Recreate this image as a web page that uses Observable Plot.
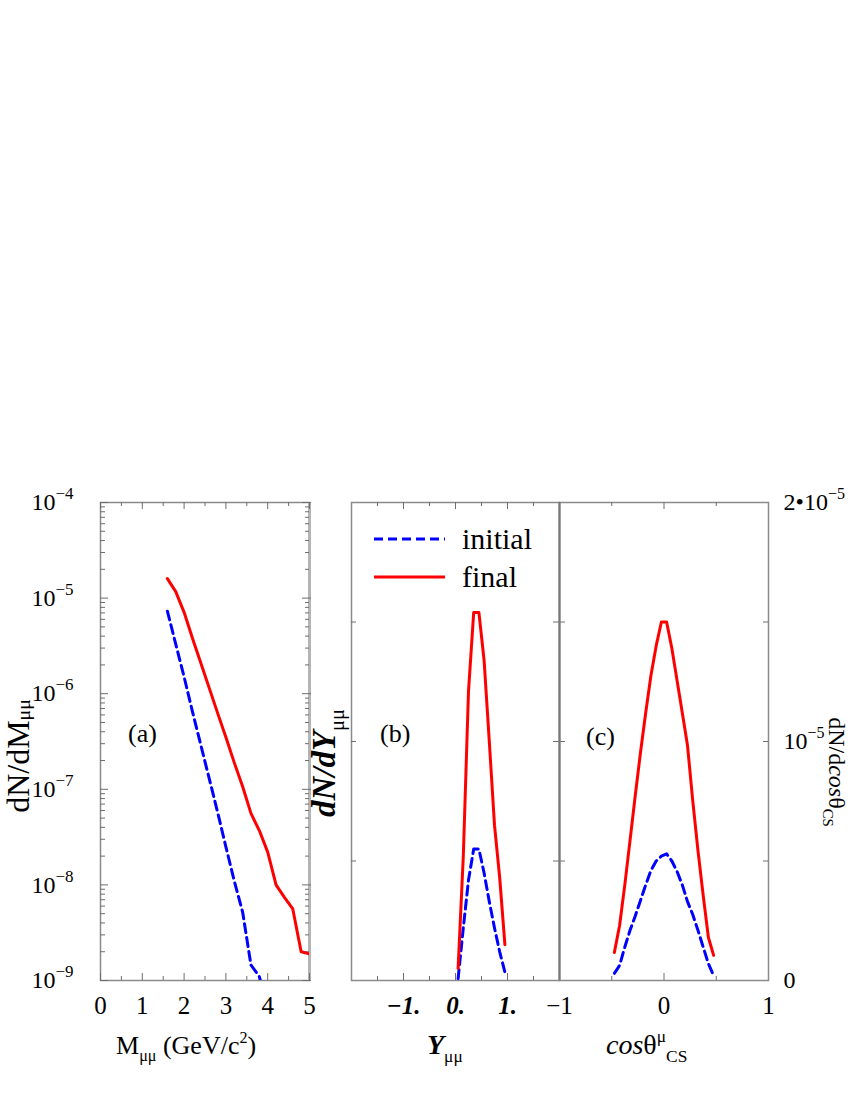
<!DOCTYPE html>
<html><head><meta charset="utf-8">
<script src="https://cdn.jsdelivr.net/npm/d3@7"></script>
<script src="https://cdn.jsdelivr.net/npm/@observablehq/plot@0.6"></script>
<style>
body{margin:0;background:#fff;}
#wrap{position:relative;width:850px;height:1100px;font-family:"Liberation Serif","Times New Roman",serif;color:#000;}
#wrap text{font-family:"Liberation Serif","Times New Roman",serif;}
</style></head><body><div id="wrap"></div>
<script>
// ---------- data ----------
const massFinalX = [1.6,1.8,2.0,2.2,2.4,2.6,2.8,3.0,3.2,3.4,3.6,3.8,4.0,4.2,4.4,4.6,4.8,5.0];
const massFinal  = [1.6e-5,1.17e-5,7.1e-6,3.8e-6,2.1e-6,1.15e-6,6.3e-7,3.5e-7,1.9e-7,1.07e-7,5.6e-8,3.7e-8,2.2e-8,1.0e-8,7.4e-9,5.6e-9,2.0e-9,1.9e-9];
const massInitialX = [1.6,1.8,2.0,2.2,2.4,2.6,2.8,3.0,3.2,3.4,3.6,3.8,4.0];
const massInitial  = [7.3e-6,3.3e-6,1.5e-6,6.5e-7,2.9e-7,1.3e-7,5.8e-8,2.5e-8,1.1e-8,5.2e-9,1.45e-9,1.1e-9,5e-10];

const rapX       = [0.05,0.15,0.25,0.35,0.45,0.55,0.65,0.75,0.85,0.95];
const rapInitial = [0.008e-5,0.22e-5,0.42e-5,0.55e-5,0.55e-5,0.45e-5,0.33e-5,0.22e-5,0.12e-5,0.035e-5];
const rapFinal   = [0.05e-5,0.52e-5,1.21e-5,1.54e-5,1.54e-5,1.34e-5,1.0e-5,0.65e-5,0.43e-5,0.15e-5];

const cosX = [-0.475,-0.425,-0.375,-0.325,-0.275,-0.225,-0.175,-0.125,-0.075,-0.025,0.025,0.075,0.125,0.175,0.225,0.275,0.325,0.375,0.425,0.475];
const cosInitial = [0.03e-5,0.063e-5,0.14e-5,0.21e-5,0.27e-5,0.335e-5,0.40e-5,0.46e-5,0.50e-5,0.52e-5,0.53e-5,0.50e-5,0.456e-5,0.40e-5,0.33e-5,0.276e-5,0.21e-5,0.14e-5,0.07e-5,0.02e-5];
const cosFinal   = [0.117e-5,0.23e-5,0.40e-5,0.586e-5,0.774e-5,0.954e-5,1.12e-5,1.276e-5,1.40e-5,1.50e-5,1.50e-5,1.39e-5,1.255e-5,1.12e-5,0.983e-5,0.753e-5,0.544e-5,0.356e-5,0.18e-5,0.105e-5];

const massDomain = [0,5];
const logDomain = [1e-9,1e-4];
const decades = [1e-9,1e-8,1e-7,1e-6,1e-5,1e-4];
const massMajor = [0,1,2,3,4,5];
const massMinor = [0.5,1.5,2.5,3.5,4.5];
const rapDomain = [-2,2];
const rapLabels = [-1,0,1];
const rapMinor = [-1.5,-0.5,0.5,1.5];
const cosDomain = [-1,1];
const cosLabels = [-1,0,1];
const cosMajor = [0];
const cosMinor = [-0.5,0.5];
const linDomain = [0,2e-5];
const linTicks = [0.5e-5,1e-5,1.5e-5];
const rightLabels = [0,1e-5,2e-5];
const seriesNames = ["initial","final"];

// ---------- styles ----------
const FONT = '"Liberation Serif","Times New Roman",serif';
const RED = "#ff0000", BLUE = "#0000ff";
const DASH = "9,5";
const FRAME = "#8a8a8a", TICK = "#6e6e6e";
const FH = 478;
const minorLog = decades.slice(0,-1).flatMap(d => [2,3,4,5,6,7,8,9].map(k => k*d));
const pts = (xs, ys) => xs.map((x,i) => ({x, y: ys[i]}));
const minus = s => String(s).replace("-", "\u2212");
const baseStyle = {background:"transparent", overflow:"visible", fontFamily:FONT, fontSize:"25px", color:"#000"};

function hT(values, fw, len, side, stroke=TICK, out=0) {
  return side === "left"
    ? Plot.ruleY(values, {y: d=>d, insetLeft: -out, insetRight: fw-len, stroke, strokeWidth:1})
    : Plot.ruleY(values, {y: d=>d, insetLeft: fw-len, insetRight: -out, stroke, strokeWidth:1});
}
function vT(values, len, side, stroke=TICK) {
  return side === "bottom"
    ? Plot.ruleX(values, {x: d=>d, insetTop: FH-len, stroke, strokeWidth:1})
    : Plot.ruleX(values, {x: d=>d, insetBottom: FH-len, stroke, strokeWidth:1});
}
function supify(svg, supSize, shift) {
  d3.select(svg).selectAll("text").each(function(){
    const t = this.textContent;
    if (!t.includes("^")) return;
    const [a,b] = t.split("^");
    const s = d3.select(this);
    s.text(null);
    s.append("tspan").text(a);
    s.append("tspan").attr("dy", -shift).attr("font-size", supSize).text(b);
  });
}
function place(node, left, top) {
  node.style.position = "absolute";
  node.style.left = left + "px";
  node.style.top = top + "px";
  d3.select(node).attr("font-family", FONT);
  d3.select(node).selectAll("text").attr("font-family", FONT).style("font-family", FONT);
  document.getElementById("wrap").appendChild(node);
}

// ---------- panel (a) ----------
const FWA = 209;
const plotA = Plot.plot({
  width:340, height:640, marginLeft:100, marginRight:31, marginTop:62, marginBottom:100,
  style: baseStyle,
  x:{domain:massDomain, label:null, axis:null},
  y:{type:"log", domain:logDomain, label:null, axis:null},
  marks:[
    Plot.frame({stroke:FRAME, strokeWidth:1.5}),
    Plot.ruleX([massDomain[1]], {stroke:"#b4b4b4", strokeWidth:3}),
    hT(decades, FWA, 8, "left"), hT(minorLog, FWA, 5, "left"),
    hT(decades, FWA, 7, "right", TICK, 2), hT(minorLog, FWA, 4, "right"),
    vT(massMajor, 7, "bottom"), vT(massMinor, 4, "bottom"),
    vT(massMajor, 7, "top"), vT(massMinor, 4, "top"),
    Plot.axisY(decades, {anchor:"left", tickSize:0, tickPadding:27, label:null, fontSize:24, fontFamily:FONT,
      tickFormat: d => "10^" + minus(Math.round(Math.log10(d)))}),
    Plot.axisX(massMajor, {anchor:"bottom", tickSize:0, tickPadding:16, label:null, fontSize:25, fontFamily:FONT}),
    Plot.line(pts(massInitialX, massInitial), {x:"x", y:"y", stroke:BLUE, strokeWidth:3, strokeDasharray:DASH, clip:true}),
    Plot.line(pts(massFinalX, massFinal), {x:"x", y:"y", stroke:RED, strokeWidth:3, clip:true})
  ]
});
supify(plotA, 17, 11);
place(plotA, 0, 440);

// ---------- panel (b) ----------
const FWB = 208;
const plotB = Plot.plot({
  width:220, height:640, marginLeft:11, marginRight:1, marginTop:62, marginBottom:100,
  style: baseStyle,
  x:{domain:rapDomain, label:null, axis:null},
  y:{domain:linDomain, label:null, axis:null},
  marks:[
    Plot.frame({stroke:FRAME, strokeWidth:1.5}),
    hT(linTicks, FWB, 5, "left"),
    hT(linTicks, FWB, 6, "right", TICK, 6),
    vT(rapLabels, 7, "bottom"), vT(rapMinor, 4, "bottom"),
    vT(rapLabels, 7, "top"), vT(rapMinor, 4, "top"),
    Plot.axisX(rapLabels, {anchor:"bottom", tickSize:0, tickPadding:16, label:null, fontSize:25, fontFamily:FONT,
      fontWeight:"bold", fontStyle:"italic", tickFormat: d => minus(d) + "."}),
    Plot.line(pts(rapX, rapInitial), {x:"x", y:"y", stroke:BLUE, strokeWidth:3, strokeDasharray:DASH}),
    Plot.line(pts(rapX, rapFinal), {x:"x", y:"y", stroke:RED, strokeWidth:3})
  ]
});
place(plotB, 340, 440);

// ---------- panel (c) ----------
const FWC = 209;
const plotC = Plot.plot({
  width:310, height:640, marginLeft:19, marginRight:82, marginTop:62, marginBottom:100,
  style: baseStyle,
  x:{domain:cosDomain, label:null, axis:null},
  y:{domain:linDomain, label:null, axis:null},
  marks:[
    Plot.frame({stroke:FRAME, strokeWidth:1.5}),
    Plot.ruleX([cosDomain[0]], {stroke:"#777", strokeWidth:2}),
    hT(linTicks, FWC, 5, "right"),
    vT(cosMajor, 7, "bottom"), vT(cosMinor, 4, "bottom"),
    vT(cosMajor, 7, "top"), vT(cosMinor, 4, "top"),
    Plot.axisX(cosLabels, {anchor:"bottom", tickSize:0, tickPadding:16, label:null, fontSize:25, fontFamily:FONT,
      tickFormat: d => minus(d)}),
    Plot.axisY(rightLabels, {anchor:"right", tickSize:0, tickPadding:15, label:null, fontSize:24, fontFamily:FONT,
      tickFormat: d => d === 0 ? "0" : (d === 1e-5 ? "10^\u22125" : "2\u202210^\u22125")}),
    Plot.line(pts(cosX, cosInitial), {x:"x", y:"y", stroke:BLUE, strokeWidth:3, strokeDasharray:DASH}),
    Plot.line(pts(cosX, cosFinal), {x:"x", y:"y", stroke:RED, strokeWidth:3})
  ]
});
supify(plotC, 16, 11);
place(plotC, 540, 440);

// ---------- annotations (titles, panel labels, legend) ----------
const ov = d3.select("#wrap").append("svg")
  .attr("width",850).attr("height",1100)
  .style("position","absolute").style("left","0px").style("top","0px")
  .style("pointer-events","none").attr("font-family",FONT);

function rich(x, y, parts, {size=24, anchor="start", rotate=0, weight="normal", fstyle="normal", sub=0.28} = {}) {
  const t = ov.append("text").attr("transform", `translate(${x},${y}) rotate(${rotate})`)
    .attr("text-anchor", anchor).attr("font-size", size).attr("font-weight", weight)
    .attr("font-style", fstyle).attr("font-family", FONT);
  let cur = 0;
  for (const p of parts) {
    const [txt, kind, st] = p;
    const small = size*0.62;
    let target = kind === "sub" ? size*sub : kind === "sup" ? -size*0.42 : 0;
    const sp = t.append("tspan").attr("dy", target - cur).text(txt);
    cur = target;
    if (kind) sp.attr("font-size", small);
    if (st) for (const k in st) sp.attr(k, st[k]);
  }
  return t;
}

// x-axis titles
rich(116, 1054, [["M"],["\u03bc\u03bc","sub"],[" (GeV/c"],["2","sup"],[")"]], {size:26});
rich(427, 1054, [["Y",null,{"font-weight":"bold","font-style":"italic"}],["\u03bc\u03bc","sub"]], {size:28});
rich(606, 1054, [["cos",null,{"font-style":"italic"}],["\u03b8"],["\u03bc","sup"],["CS","sub"]], {size:28});
// y-axis titles
rich(29, 756, [["dN/dM"],["\u03bc\u03bc","sub"]], {size:32, anchor:"middle", rotate:-90, sub:0.02});
rich(335, 763, [["dN/dY",null,{"font-weight":"bold","font-style":"italic"}],["\u03bc\u03bc","sub"]], {size:33, anchor:"middle", rotate:-90});
rich(829, 772, [["dN/d"],["cos",null,{"font-style":"italic"}],["\u03b8"],["CS","sub"]], {size:24, anchor:"middle", rotate:90, sub:0.25});
// panel labels
rich(128, 742, [["(a)"]], {size:26});
rich(380, 742, [["(b)"]], {size:26});
rich(586, 745, [["(c)"]], {size:26});
// legend
const legend = [
  {name:seriesNames[0], stroke:BLUE, dash:DASH, y:539},
  {name:seriesNames[1], stroke:RED, dash:null, y:577}
];
for (const L of legend) {
  ov.append("line").attr("x1",374).attr("x2",445).attr("y1",L.y).attr("y2",L.y)
    .attr("stroke",L.stroke).attr("stroke-width",3).attr("stroke-dasharray",L.dash);
  ov.append("text").attr("x",462).attr("y",L.y+10).attr("font-size",30).attr("font-family",FONT).text(L.name);
}
</script></body></html>
